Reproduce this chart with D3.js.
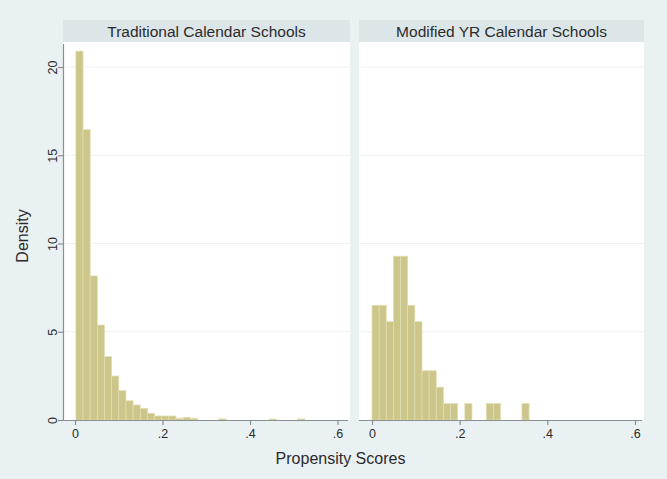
<!DOCTYPE html>
<html>
<head>
<meta charset="utf-8">
<script src="https://cdn.jsdelivr.net/npm/d3@7"></script>
<style>
  html, body { margin: 0; padding: 0; background: #eaf1f3; }
  svg { display: block; font-family: "Liberation Sans", Arial, sans-serif; }
</style>
</head>
<body>
<svg id="chart" width="667" height="479"></svg>
<script>
// ---- data ----
const panels = ["Traditional Calendar Schools", "Modified YR Calendar Schools"];
const binStart = [0.002, 0.0];
const binWidth = [0.01635, 0.01629];
const traditionalDensity = [20.9, 16.45, 8.16, 5.38, 3.59, 2.49, 1.66, 1.09, 0.85, 0.66,
  0.38, 0.23, 0.23, 0.23, 0.1, 0.15, 0.1, 0, 0, 0,
  0.07, 0, 0, 0, 0, 0, 0, 0.06, 0, 0, 0, 0.06];
const modifiedDensity = [6.5, 6.5, 5.57, 9.28, 9.28, 6.5, 5.57, 2.79, 2.79, 1.86,
  0.93, 0.93, 0, 0.93, 0, 0, 0.93, 0.93, 0, 0, 0, 0.93];
const seriesValues = [traditionalDensity, modifiedDensity];
const xTicks = [0, 0.2, 0.4, 0.6];
const xTickLabels = ["0", ".2", ".4", ".6"];
const yTicks = [0, 5, 10, 15, 20];
const yTickLabels = ["0", "5", "10", "15", "20"];
const xTitle = "Propensity Scores";
const yTitle = "Density";

// ---- layout ----
const svg = d3.select("#chart");
const layout = [
  { left: 63, right: 350, zero: 75, six: 337.5, yAxis: true },
  { left: 359, right: 644, zero: 372, six: 635, yAxis: false }
];
const plotTop = 42, plotBottom = 420, headTop = 20;
const y = d3.scaleLinear().domain([0, 20]).range([plotBottom, 67]);

const barFill = "#ccc68b", barStroke = "#e2dfb3", axisColor = "#8a8f92", textColor = "#2b2b2b";

panels.forEach((name, p) => {
  const L = layout[p];
  const x = d3.scaleLinear().domain([0, 0.6]).range([L.zero, L.six]);
  const g = svg.append("g");

  // header strip
  g.append("rect").attr("x", L.left).attr("y", headTop)
    .attr("width", L.right - L.left).attr("height", plotTop - headTop)
    .attr("fill", "#dce6e9");
  g.append("text").attr("x", (L.left + L.right) / 2).attr("y", 36.5)
    .attr("text-anchor", "middle").attr("font-size", 15.5).attr("fill", textColor)
    .text(name);

  // plot region
  g.append("rect").attr("x", L.left).attr("y", plotTop)
    .attr("width", L.right - L.left).attr("height", plotBottom - plotTop)
    .attr("fill", "#ffffff");

  // gridlines
  g.selectAll(".grid").data(yTicks.filter(t => t > 0)).enter().append("line")
    .attr("x1", L.left).attr("x2", L.right)
    .attr("y1", d => y(d)).attr("y2", d => y(d))
    .attr("stroke", "#edf1f3").attr("stroke-width", 1);

  // bars
  const vals = seriesValues[p];
  const bins = vals.map((v, i) => ({ x0: binStart[p] + i * binWidth[p], x1: binStart[p] + (i + 1) * binWidth[p], v }))
    .filter(d => d.v > 0);
  g.selectAll(".bar").data(bins).enter().append("rect")
    .attr("x", d => x(d.x0)).attr("width", d => x(d.x1) - x(d.x0))
    .attr("y", d => y(d.v)).attr("height", d => y(0) - y(d.v))
    .attr("fill", barFill).attr("stroke", barStroke).attr("stroke-width", 0.7);

  // x axis
  const xa = g.append("g").attr("transform", `translate(0,${plotBottom})`)
    .call(d3.axisBottom(x).tickValues(xTicks).tickFormat((d, i) => xTickLabels[i]).tickSize(5).tickPadding(4).tickSizeOuter(0));
  xa.select(".domain").remove();
  xa.append("line").attr("x1", L.left).attr("x2", L.right - 2).attr("y1", 0.5).attr("y2", 0.5)
    .attr("stroke", axisColor).attr("stroke-width", 1.2);
  xa.selectAll(".tick line").attr("stroke", axisColor).attr("stroke-width", 1.2);
  xa.selectAll(".tick text").attr("font-size", 12.5).attr("fill", textColor)
    .attr("font-family", "Liberation Sans, Arial, sans-serif");

  // y axis
  if (L.yAxis) {
    const ya = g.append("g").attr("transform", `translate(${L.left},0)`)
      .call(d3.axisLeft(y).tickValues(yTicks).tickFormat((d, i) => yTickLabels[i]).tickSize(5).tickSizeOuter(0));
    ya.select(".domain").remove();
    ya.append("line").attr("x1", 0.5).attr("x2", 0.5).attr("y1", plotTop + 2).attr("y2", plotBottom)
      .attr("stroke", axisColor).attr("stroke-width", 1.2);
    ya.selectAll(".tick line").attr("stroke", axisColor).attr("stroke-width", 1.2);
    ya.selectAll(".tick text")
      .attr("font-size", 12.5).attr("fill", textColor)
      .attr("font-family", "Liberation Sans, Arial, sans-serif")
      .attr("x", null).attr("dy", null)
      .attr("text-anchor", "middle")
      .attr("transform", "translate(-10,0) rotate(-90)")
      .attr("y", 0).attr("dy", "0.35em")
      .attr("x", 0);
  }
});

// axis titles
svg.append("text").attr("x", 340.5).attr("y", 463.5).attr("text-anchor", "middle")
  .attr("font-size", 16).attr("fill", textColor).text(xTitle);
svg.append("text").attr("transform", "translate(27.5,236) rotate(-90)")
  .attr("text-anchor", "middle").attr("font-size", 16).attr("fill", textColor).text(yTitle);
</script>
</body>
</html>
